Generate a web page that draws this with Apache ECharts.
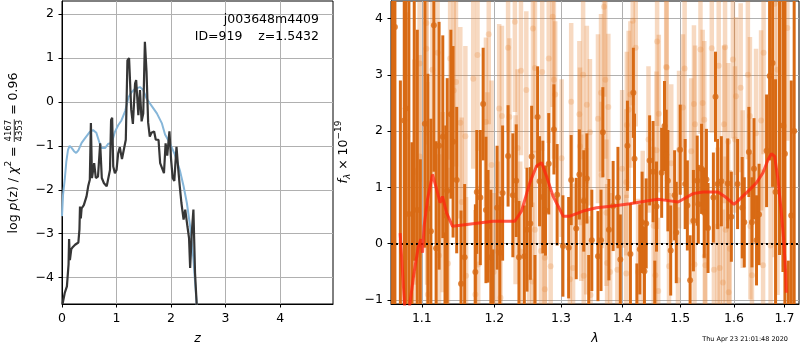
<!DOCTYPE html>
<html>
<head>
<meta charset="utf-8">
<script src="https://cdn.jsdelivr.net/npm/echarts@6/dist/echarts.min.js"></script>
<style>
  html, body { margin: 0; padding: 0; background: #fff; }
  #chart { width: 800px; height: 350px; }
</style>
</head>
<body>
<div id="chart"></div>
<script>
var FONT = '"DejaVu Sans"';

// left panel: redshift grid, log p(z) (dark) and chi2 curve (blue)
var zTicks = [0, 1, 2, 3, 4];
var pzTicks = [-4, -3, -2, -1, 0, 1, 2];
var pzCurve = [
  [0.01, -4.6], [0.05, -4.35], [0.09, -4.2], [0.12, -3.7], [0.13, -3.12], [0.145, -3.6],
  [0.17, -3.35], [0.2, -3.3], [0.24, -3.25], [0.3, -3.2], [0.32, -2.9], [0.33, -2.38],
  [0.345, -2.65], [0.36, -2.42], [0.4, -2.35], [0.45, -2.15], [0.48, -1.92], [0.51, -1.77],
  [0.53, -0.48], [0.55, -1.73], [0.59, -1.39], [0.62, -1.73], [0.66, -1.7], [0.7, -0.94],
  [0.73, -1.73], [0.77, -1.85], [0.82, -1.92], [0.85, -1.96], [0.88, -1.55], [0.9, -0.41],
  [0.92, -0.36], [0.94, -1.47], [0.97, -1.62], [1.0, -1.55], [1.03, -1.17], [1.06, -1.03],
  [1.1, -1.3], [1.13, -1.26], [1.17, -0.86], [1.2, 0.95], [1.23, 1.0], [1.27, -0.18],
  [1.3, -0.5], [1.34, 0.42], [1.36, 0.5], [1.4, -0.3], [1.43, 0.27], [1.46, -0.44],
  [1.49, -0.26], [1.52, 1.37], [1.55, 0.7], [1.58, -0.47], [1.61, -0.79], [1.64, -0.7],
  [1.69, -0.67], [1.72, -0.86], [1.77, -0.86], [1.8, -1.39], [1.83, -1.36], [1.87, -1.62],
  [1.9, -0.94], [1.93, -1.22], [1.97, -0.67], [2.0, -1.3], [2.03, -1.73], [2.06, -1.8],
  [2.08, -1.39], [2.1, -1.02], [2.13, -1.5], [2.16, -1.92], [2.19, -2.3], [2.23, -2.68],
  [2.26, -2.45], [2.3, -2.83], [2.33, -3.1], [2.35, -3.78], [2.38, -2.98], [2.41, -2.45],
  [2.44, -3.9], [2.47, -4.6], [2.5, -5.5]
];
var chi2Curve = [
  [0.0, -2.6], [0.02, -2.1], [0.05, -1.77], [0.08, -1.35], [0.11, -1.09], [0.14, -1.0],
  [0.18, -1.05], [0.22, -1.12], [0.26, -1.16], [0.3, -1.1], [0.36, -0.93], [0.42, -0.83],
  [0.51, -0.68], [0.57, -0.64], [0.63, -0.7], [0.69, -0.94], [0.73, -1.05], [0.79, -1.05],
  [0.85, -0.95], [0.91, -0.94], [0.97, -0.68], [1.03, -0.53], [1.09, -0.42], [1.16, -0.2],
  [1.22, 0.11], [1.28, 0.23], [1.34, 0.3], [1.43, 0.34], [1.49, 0.27], [1.55, 0.08],
  [1.65, -0.1], [1.74, -0.26], [1.83, -0.48], [1.89, -0.74], [1.98, -0.94], [2.07, -1.2],
  [2.16, -1.55], [2.23, -1.92], [2.29, -2.3], [2.35, -2.83], [2.41, -3.58], [2.47, -4.6],
  [2.5, -5.2]
];

// right panel: spectrum points [lambda, flux, err]
var lamTicks = [1.1, 1.2, 1.3, 1.4, 1.5, 1.6, 1.7];
var fluxTicks = [-1, 0, 1, 2, 3, 4];
var darkPoints = [
  [1.062, 5.0, 7.0], [1.065, 3.85, 6.0], [1.072, -1.6, 4.5], [1.077, 2.19, 3.6], [1.079, 2.4, 4.0],
  [1.083, 0.53, 3.8], [1.087, -1.8, 3.6], [1.090, 5.2, 5.5], [1.094, 0.6, 3.2], [1.098, -1.5, 3.0],
  [1.104, 2.13, 2.2], [1.108, 0.62, 2.4], [1.112, 0.22, 2.0], [1.116, 3.88, 2.6], [1.119, -0.08, 1.9],
  [1.123, 1.74, 2.2], [1.128, 1.9, 1.8], [1.131, -1.4, 1.6], [1.132, 0.5, 1.6], [1.134, 0.94, 2.0],
  [1.139, 2.3, 1.5], [1.142, 1.81, 1.7], [1.147, 1.13, 1.3], [1.153, -0.71, 1.3], [1.158, -0.24, 1.3],
  [1.173, -0.5, 1.2], [1.175, 0.92, 1.1], [1.180, 0.82, 1.2], [1.184, 2.48, 1.0], [1.188, 0.6, 1.3],
  [1.191, 0.31, 1.0], [1.195, -0.24, 1.2], [1.198, -1.2, 1.1], [1.204, 0.64, 1.1], [1.208, -0.16, 1.0],
  [1.212, 0.9, 1.2], [1.220, 1.56, 0.9], [1.227, 0.86, 1.1], [1.232, 1.12, 1.0], [1.236, -0.24, 1.0],
  [1.244, -0.22, 0.9], [1.248, 0.25, 1.1], [1.253, 0.36, 1.0], [1.255, 1.55, 0.9], [1.260, -1.3, 1.1],
  [1.264, 2.25, 0.9], [1.267, 1.11, 0.8], [1.272, 0.83, 1.0], [1.276, 0.59, 0.8], [1.281, 1.42, 0.9],
  [1.289, 2.03, 0.8], [1.294, 0.87, 0.9], [1.303, -0.04, 0.9], [1.312, -0.07, 0.9], [1.316, 1.13, 0.8],
  [1.324, 0.27, 0.9], [1.329, 1.23, 0.8], [1.336, 0.76, 0.9], [1.341, 1.16, 0.8], [1.344, -1.2, 1.0],
  [1.349, 0.06, 0.9], [1.359, -0.22, 0.8], [1.364, 0.06, 0.9], [1.367, 1.98, 0.8], [1.377, 0.25, 0.9],
  [1.384, 0.67, 0.8], [1.392, 0.82, 0.9], [1.396, -0.28, 0.8], [1.408, 1.74, 0.8], [1.413, -0.18, 0.9],
  [1.418, 2.68, 0.8], [1.420, 1.51, 0.8], [1.424, -1.25, 0.9], [1.429, -0.1, 0.8], [1.433, 0.38, 0.9],
  [1.437, -0.49, 0.8], [1.440, 0.36, 0.8], [1.446, 1.48, 0.8], [1.452, 1.28, 0.9], [1.455, -1.2, 0.9],
  [1.458, 0.66, 0.8], [1.467, 1.26, 0.8], [1.472, 2.09, 0.8], [1.475, 1.58, 0.8], [1.478, 1.12, 0.9],
  [1.483, -0.12, 0.8], [1.490, 0.86, 0.8], [1.493, 0.2, 0.9], [1.500, 1.67, 0.8], [1.509, 1.06, 0.8],
  [1.513, 0.68, 0.8], [1.518, -0.65, 0.8], [1.524, 0.41, 0.9], [1.531, 1.12, 0.8], [1.533, 0.7, 0.7],
  [1.539, 1.33, 0.8], [1.544, 0.55, 0.8], [1.548, 1.14, 0.9], [1.551, 0.28, 0.8], [1.561, 0.82, 0.8],
  [1.565, 2.61, 0.8], [1.569, 1.06, 0.8], [1.576, 1.11, 0.8], [1.588, 1.07, 0.8], [1.595, 0.48, 0.8],
  [1.607, 1.06, 0.8], [1.616, 0.64, 0.9], [1.620, 0.38, 0.8], [1.629, 1.63, 0.8], [1.635, 0.38, 0.8],
  [1.639, 1.33, 0.9], [1.644, 0.06, 0.8], [1.649, 0.52, 0.9], [1.664, 1.65, 1.0], [1.670, 2.98, 1.5],
  [1.676, 3.21, 2.2], [1.682, 0.92, 2.0], [1.690, 4.8, 5.0], [1.697, 2.1, 2.6], [1.701, 1.6, 2.9],
  [1.708, -1.4, 1.1], [1.714, 0.5, 2.4], [1.720, 2.0, 6.0]
];
var lightPoints = [
  [1.081, 1.91, 2.2], [1.090, 1.27, 2.0], [1.090, -0.55, 1.9], [1.097, 3.2, 2.1], [1.097, 1.55, 1.8],
  [1.106, 3.46, 1.7], [1.106, 3.92, 2.0], [1.107, 1.07, 1.8], [1.108, -0.9, 1.6], [1.114, 3.09, 1.9],
  [1.121, 3.39, 1.7], [1.123, -0.21, 1.8], [1.128, 0.74, 1.6], [1.135, -0.35, 1.7], [1.138, 3.29, 1.8],
  [1.143, 2.72, 1.6], [1.146, 2.87, 1.5], [1.152, 2.15, 1.7], [1.154, 0.74, 1.5], [1.159, 1.91, 1.6],
  [1.160, -0.57, 1.4], [1.170, 2.93, 1.6], [1.173, -0.9, 1.5], [1.176, 3.35, 1.7], [1.177, -0.37, 1.4],
  [1.188, 2.16, 1.5], [1.190, 1.09, 1.6], [1.192, 3.72, 1.6], [1.196, 1.4, 1.5], [1.199, -0.5, 1.4],
  [1.205, -0.14, 1.6], [1.207, 2.4, 1.5], [1.209, -0.96, 1.4], [1.211, 2.27, 1.6], [1.220, 3.48, 1.5],
  [1.222, 2.25, 1.4], [1.230, 3.94, 1.6], [1.231, 0.78, 1.5], [1.234, 1.7, 1.4], [1.238, -0.14, 1.6],
  [1.239, 3.07, 1.5], [1.247, 2.73, 1.4], [1.251, -0.6, 1.5], [1.256, -0.67, 1.4], [1.257, 3.82, 1.6],
  [1.260, 3.12, 1.5], [1.260, 0.25, 1.4], [1.269, -0.13, 1.5], [1.271, 3.05, 1.4], [1.275, -0.25, 1.3],
  [1.275, -0.81, 1.4], [1.281, 3.29, 1.5], [1.284, -0.4, 1.3], [1.287, 4.03, 1.6], [1.289, 2.91, 1.4],
  [1.291, 2.65, 1.3], [1.301, 1.52, 1.4], [1.314, -0.63, 1.3], [1.316, 2.52, 1.4], [1.319, -0.43, 1.5],
  [1.329, 2.3, 1.3], [1.330, 1.73, 1.4], [1.332, 0.64, 1.3], [1.335, 3.0, 1.5], [1.336, -0.57, 1.4],
  [1.340, 0.4, 1.3], [1.341, 2.47, 1.4], [1.346, 1.98, 1.3], [1.347, -0.91, 1.4], [1.359, 2.22, 1.5],
  [1.364, 2.68, 1.4], [1.365, 1.22, 1.3], [1.369, 4.21, 1.6], [1.371, 2.91, 1.4], [1.373, 0.55, 1.3],
  [1.374, -0.34, 1.4], [1.376, 2.43, 1.3], [1.379, -0.5, 1.4], [1.391, -0.46, 1.3], [1.399, 1.33, 1.4],
  [1.406, 1.09, 1.3], [1.406, -0.53, 1.4], [1.407, 2.11, 1.3], [1.410, 2.38, 1.4], [1.413, 2.65, 1.3],
  [1.417, 3.96, 1.5], [1.422, 3.48, 1.4], [1.426, -0.5, 1.3], [1.434, 0.25, 1.4], [1.444, 1.85, 1.3],
  [1.453, 0.32, 1.4], [1.456, -0.56, 1.3], [1.458, 1.66, 1.4], [1.459, 3.59, 1.5], [1.461, -0.84, 1.3],
  [1.462, 2.31, 1.4], [1.475, 3.14, 1.4], [1.476, 3.13, 1.5], [1.480, -0.4, 1.3], [1.484, 1.43, 1.4],
  [1.496, -0.65, 1.3], [1.498, 1.67, 1.4], [1.505, 2.42, 1.3], [1.508, 3.11, 1.4], [1.520, 1.64, 1.3],
  [1.525, 2.48, 1.4], [1.526, -0.37, 1.3], [1.527, 2.12, 1.4], [1.537, 3.45, 1.5], [1.541, 2.5, 1.3],
  [1.544, 2.2, 1.4], [1.545, -0.22, 1.3], [1.546, -0.38, 1.4], [1.558, 3.47, 1.5], [1.562, -0.46, 1.3],
  [1.569, 0.31, 1.4], [1.571, 3.16, 1.3], [1.573, -0.43, 1.4], [1.579, -0.69, 1.3], [1.581, 2.12, 1.4],
  [1.583, 3.49, 1.5], [1.584, 0.25, 1.3], [1.589, 1.81, 1.4], [1.590, -0.86, 1.3], [1.592, -0.09, 1.4],
  [1.598, 3.27, 1.4], [1.602, 1.85, 1.3], [1.604, 2.62, 1.4], [1.613, 2.77, 1.5], [1.617, 0.97, 1.4],
  [1.627, 3.0, 1.5], [1.631, 2.27, 1.4], [1.632, 0.31, 1.3], [1.635, -0.56, 1.4], [1.643, 1.96, 1.5],
  [1.653, 2.19, 1.6], [1.657, -0.38, 1.7], [1.658, 3.39, 1.8], [1.672, -0.03, 3.5], [1.680, 4.26, 4.5],
  [1.686, 3.09, 4.0], [1.699, 2.09, 2.5], [1.706, 3.83, 2.0]
];
// best-fit model [lambda, flux]
var modelCurve = [
  [1.0717, 0.19], [1.0775, -1.1], [1.080, -1.5], [1.084, -1.1], [1.0891, -0.57], [1.0951, -0.07],
  [1.0987, 0.08], [1.1009, -0.16], [1.103, 0.31], [1.1075, 0.79], [1.1142, 1.23], [1.1186, 1.02],
  [1.1244, 0.73], [1.1276, 0.84], [1.1331, 0.55], [1.1413, 0.31], [1.1982, 0.4], [1.2298, 0.4],
  [1.2398, 0.58], [1.2522, 1.08], [1.2624, 1.38], [1.27, 1.44], [1.2776, 1.2], [1.2878, 0.84],
  [1.2955, 0.67], [1.3034, 0.49], [1.3139, 0.49], [1.335, 0.58], [1.3566, 0.64], [1.3839, 0.67],
  [1.4119, 0.71], [1.4405, 0.76], [1.4607, 0.79], [1.4755, 0.77], [1.4962, 0.74], [1.5052, 0.79],
  [1.5234, 0.89], [1.5418, 0.92], [1.5697, 0.92], [1.5824, 0.84], [1.6001, 0.7], [1.6078, 0.76],
  [1.6306, 0.96], [1.6437, 1.08], [1.6568, 1.26], [1.6668, 1.49], [1.6736, 1.6], [1.6802, 1.55],
  [1.6869, 1.14], [1.6937, 0.55], [1.6984, 0.08], [1.7025, -0.51], [1.7039, -0.87]
];

var DARK = '#d86a14';
var LIGHT = 'rgba(230,130,50,0.3)';
var GRID_LINE = '#b0b0b0';

function minusFmt(v) {
  return v < 0 ? '\u2212' + Math.abs(v) : String(v);
}

function errBar(width, color) {
  return function (params, api) {
    var lo = api.coord([api.value(0), api.value(1) - api.value(2)]);
    var hi = api.coord([api.value(0), api.value(1) + api.value(2)]);
    return {
      type: 'line',
      shape: { x1: lo[0], y1: lo[1], x2: hi[0], y2: hi[1] },
      style: { stroke: color, lineWidth: width }
    };
  };
}

// axis label made of pieces, rotated to read bottom to top
function rotatedLabel(cx, cy, pieces) {
  var ctx = document.createElement('canvas').getContext('2d');
  var total = 0;
  pieces.forEach(function (p) {
    var size = p.size || 12.5;
    p.font = (p.italic ? 'italic ' : '') + size + 'px ' + FONT;
    ctx.font = p.font;
    if (p.num) {
      p.w = Math.max(ctx.measureText(p.num).width, ctx.measureText(p.den).width) + 2;
    } else {
      p.w = ctx.measureText(p.text).width;
    }
    total += p.w;
  });
  var x = -total / 2;
  var children = [];
  pieces.forEach(function (p) {
    if (p.num) {
      children.push({ type: 'text', x: x + p.w / 2, y: -4.8,
        style: { text: p.num, font: p.font, fill: '#000', align: 'center', verticalAlign: 'middle' } });
      children.push({ type: 'line', shape: { x1: x + 0.5, y1: 0.3, x2: x + p.w - 0.5, y2: 0.3 },
        style: { stroke: '#000', lineWidth: 0.8 } });
      children.push({ type: 'text', x: x + p.w / 2, y: 5.4,
        style: { text: p.den, font: p.font, fill: '#000', align: 'center', verticalAlign: 'middle' } });
    } else {
      children.push({ type: 'text', x: x, y: p.dy || 0,
        style: { text: p.text, font: p.font, fill: '#000', align: 'left', verticalAlign: 'middle' } });
    }
    x += p.w;
  });
  return { type: 'group', x: cx, y: cy, z: 100, rotation: Math.PI / 2, children: children };
}

function valueAxis(grid, min, max, ticks, extra) {
  var ax = {
    gridIndex: grid,
    type: 'value',
    min: min,
    max: max,
    axisLine: { show: true, onZero: false, lineStyle: { color: '#000', width: 1 } },
    axisTick: { show: true, length: 3.5, customValues: ticks, lineStyle: { color: '#000', width: 1 } },
    axisLabel: { customValues: ticks, margin: 8, color: '#000', fontFamily: FONT, fontSize: 12.5,
      formatter: minusFmt },
    splitLine: { show: true, lineStyle: { color: GRID_LINE, width: 1 } }
  };
  for (var k in extra) ax[k] = extra[k];
  return ax;
}

var chart = echarts.init(document.getElementById('chart'), null, { renderer: 'canvas' });

var option = {
  animation: false,
  backgroundColor: '#fff',
  grid: [
    { left: 62, top: 1, width: 271, height: 303, show: true, borderColor: '#000', borderWidth: 1 },
    { left: 391, top: 1, width: 408, height: 303, show: true, borderColor: '#000', borderWidth: 1 }
  ],
  xAxis: [
    valueAxis(0, 0, 4.97, zTicks, {
      name: 'z', nameLocation: 'middle', nameGap: 28,
      nameTextStyle: { color: '#000', fontFamily: FONT, fontSize: 12.5, fontStyle: 'italic' }
    }),
    {
      gridIndex: 1,
      type: 'log',
      min: 1.06,
      max: 1.73,
      name: 'λ', nameLocation: 'middle', nameGap: 28,
      nameTextStyle: { color: '#000', fontFamily: FONT, fontSize: 12.5, fontStyle: 'italic' },
      axisLine: { show: true, onZero: false, lineStyle: { color: '#000', width: 1 } },
      axisTick: { show: true, length: 3.5, customValues: lamTicks, lineStyle: { color: '#000', width: 1 } },
      axisLabel: { customValues: lamTicks, margin: 8, color: '#000', fontFamily: FONT, fontSize: 12.5,
        formatter: function (v) { return Number(v).toFixed(1); } },
      splitLine: { show: true, lineStyle: { color: GRID_LINE, width: 1 } },
      minorTick: { show: false }
    }
  ],
  yAxis: [
    valueAxis(0, -4.6, 2.3, pzTicks, {}),
    valueAxis(1, -1.07, 4.31, fluxTicks, {})
  ],
  series: [
    {
      type: 'line', xAxisIndex: 0, yAxisIndex: 0, data: chi2Curve,
      showSymbol: false, clip: true, z: 2,
      lineStyle: { color: '#86b6d9', width: 2 }
    },
    {
      type: 'line', xAxisIndex: 0, yAxisIndex: 0, data: pzCurve,
      showSymbol: false, clip: true, z: 3,
      lineStyle: { color: '#363636', width: 2.2 }
    },
    {
      type: 'custom', xAxisIndex: 1, yAxisIndex: 1, data: lightPoints,
      encode: { x: 0, y: 1 }, renderItem: errBar(4.5, LIGHT), clip: true, z: 2
    },
    {
      type: 'scatter', xAxisIndex: 1, yAxisIndex: 1,
      data: lightPoints.map(function (p) { return [p[0], p[1]]; }),
      symbolSize: 6, itemStyle: { color: LIGHT }, z: 3
    },
    {
      type: 'custom', xAxisIndex: 1, yAxisIndex: 1, data: darkPoints,
      encode: { x: 0, y: 1 }, renderItem: errBar(3, DARK), clip: true, z: 4
    },
    {
      type: 'scatter', xAxisIndex: 1, yAxisIndex: 1,
      data: darkPoints.map(function (p) { return [p[0], p[1]]; }),
      symbolSize: 6, itemStyle: { color: DARK }, z: 5
    },
    {
      type: 'line', xAxisIndex: 1, yAxisIndex: 1, data: modelCurve,
      showSymbol: false, clip: true, z: 6,
      lineStyle: { color: 'rgba(255,35,15,0.75)', width: 3 },
      markLine: {
        silent: true, symbol: 'none', label: { show: false },
        lineStyle: { color: '#000', width: 2, type: [2, 3] },
        data: [{ yAxis: 0 }]
      }
    }
  ],
  graphic: [
    { type: 'text', x: 319, y: 20, z: 100,
      style: { text: 'j003648m4409', font: '12.5px ' + FONT, fill: '#000', align: 'right', verticalAlign: 'middle' } },
    { type: 'text', x: 319, y: 37, z: 100,
      style: { text: 'ID=919    z=1.5432', font: '12.5px ' + FONT, fill: '#000', align: 'right', verticalAlign: 'middle' } },
    { type: 'text', x: 788, y: 339.5, z: 100,
      style: { text: 'Thu Apr 23 21:01:48 2020', font: '6.5px ' + FONT, fill: '#000', align: 'right', verticalAlign: 'middle' } },
    rotatedLabel(14, 153, [
      { text: 'log ' }, { text: 'p', italic: true }, { text: '(z) / ' }, { text: 'χ', italic: true },
      { text: '2', size: 9, dy: -5 }, { text: ' = ' }, { num: '4167', den: '4353', size: 8.5 },
      { text: ' = 0.96' }
    ]),
    rotatedLabel(344, 152, [
      { text: 'f', italic: true }, { text: 'λ', italic: true, size: 9, dy: 3.5 },
      { text: ' × 10' }, { text: '−19', size: 9, dy: -5 }
    ])
  ]
};

chart.setOption(option);
</script>
</body>
</html>
